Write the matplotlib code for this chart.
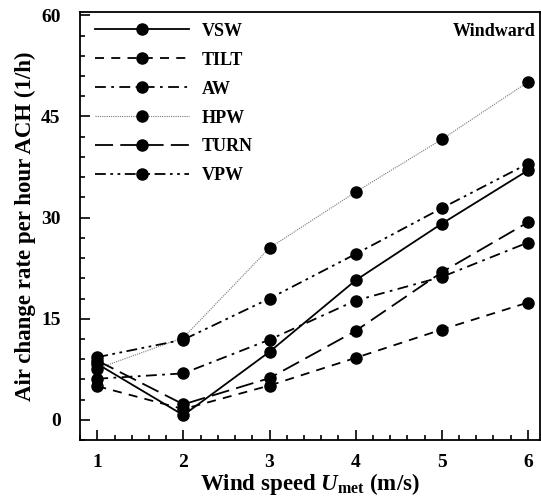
import numpy as np
import matplotlib
matplotlib.use('Agg')
from matplotlib import pyplot as plt
from matplotlib.ticker import MultipleLocator

plt.rcParams['font.family'] = 'Liberation Serif'
plt.rcParams['font.weight'] = 'bold'
plt.rcParams['axes.labelweight'] = 'bold'
plt.rcParams['mathtext.fontset'] = 'custom'
plt.rcParams['mathtext.rm'] = 'Liberation Serif:bold'
plt.rcParams['mathtext.it'] = 'Liberation Serif:italic:bold'

wind = [1, 2, 3, 4, 5, 6]  # 风速 m/s
vsw = [8.3, 0.7, 10.1, 20.7, 29.1, 37.0]
tilt = [5.0, 1.6, 5.1, 9.2, 13.4, 17.4]
aw = [6.1, 6.9, 11.9, 17.7, 21.2, 26.3]
hpw = [7.6, 12.2, 25.5, 33.8, 41.6, 50.1]
turn = [8.8, 2.3, 6.2, 13.2, 21.9, 29.3]
vpw = [9.3, 11.9, 18.0, 24.6, 31.4, 38.0]

names = ['VSW', 'TILT', 'AW', 'HPW', 'TURN', 'VPW']
series = [vsw, tilt, aw, hpw, turn, vpw]
styles = ['-', (0, (5, 4)), (0, (6, 3, 1.5, 3)), (0, (1, 1)),
          (0, (10, 4)), (0, (6, 2.5, 1.5, 2.5, 1.5, 2.5))]
widths = [1.3, 1.3, 1.3, 0.8, 1.3, 1.3]
colors = ['black', 'black', 'black', '#777777', 'black', 'black']

fig = plt.figure(figsize=(5.41, 4.99), dpi=100)
ax = fig.add_axes([0.148, 0.118, 0.85, 0.858])

for y, name, ls, lw, c in zip(series, names, styles, widths, colors):
    ax.plot(wind, y, linestyle=ls, linewidth=lw, color=c, marker='o',
            markersize=8, markerfacecolor='black', markeredgecolor='black',
            label=name)

ax.set_xlim(0.8, 6.14)
ax.set_ylim(-3, 60.5)
ax.xaxis.set_major_locator(MultipleLocator(1))
ax.xaxis.set_minor_locator(MultipleLocator(0.2))
ax.yaxis.set_major_locator(MultipleLocator(15))
ax.yaxis.set_minor_locator(MultipleLocator(3))
ax.tick_params(which='both', direction='in', top=False, right=False,
               labelsize=14, width=1.2)
ax.tick_params(which='major', length=7)
ax.tick_params(which='minor', length=3.5)
ax.tick_params(axis='x', pad=10)
ax.tick_params(axis='y', pad=14)
for lab in ax.get_xticklabels() + ax.get_yticklabels():
    lab.set_fontweight('bold')
for sp in ax.spines.values():
    sp.set_linewidth(1.3)

ax.set_xlabel(r'Wind speed $U_{\rm met}$ (m/s)', fontsize=16.5, labelpad=0)
ax.set_ylabel('Air change rate per hour ACH (1/h)', fontsize=16.5, labelpad=4)

ax.text(0.99, 0.955, 'Windward', transform=ax.transAxes, ha='right',
        va='center', fontsize=13, fontweight='bold')

ax.legend(loc='upper left', frameon=False, handlelength=5.2, numpoints=1,
          prop={'size': 13, 'weight': 'bold'}, labelspacing=0.66,
          handletextpad=0.7, borderaxespad=0.2, bbox_to_anchor=(0.01, 1.0))

fig.savefig('out.png', dpi=100)
